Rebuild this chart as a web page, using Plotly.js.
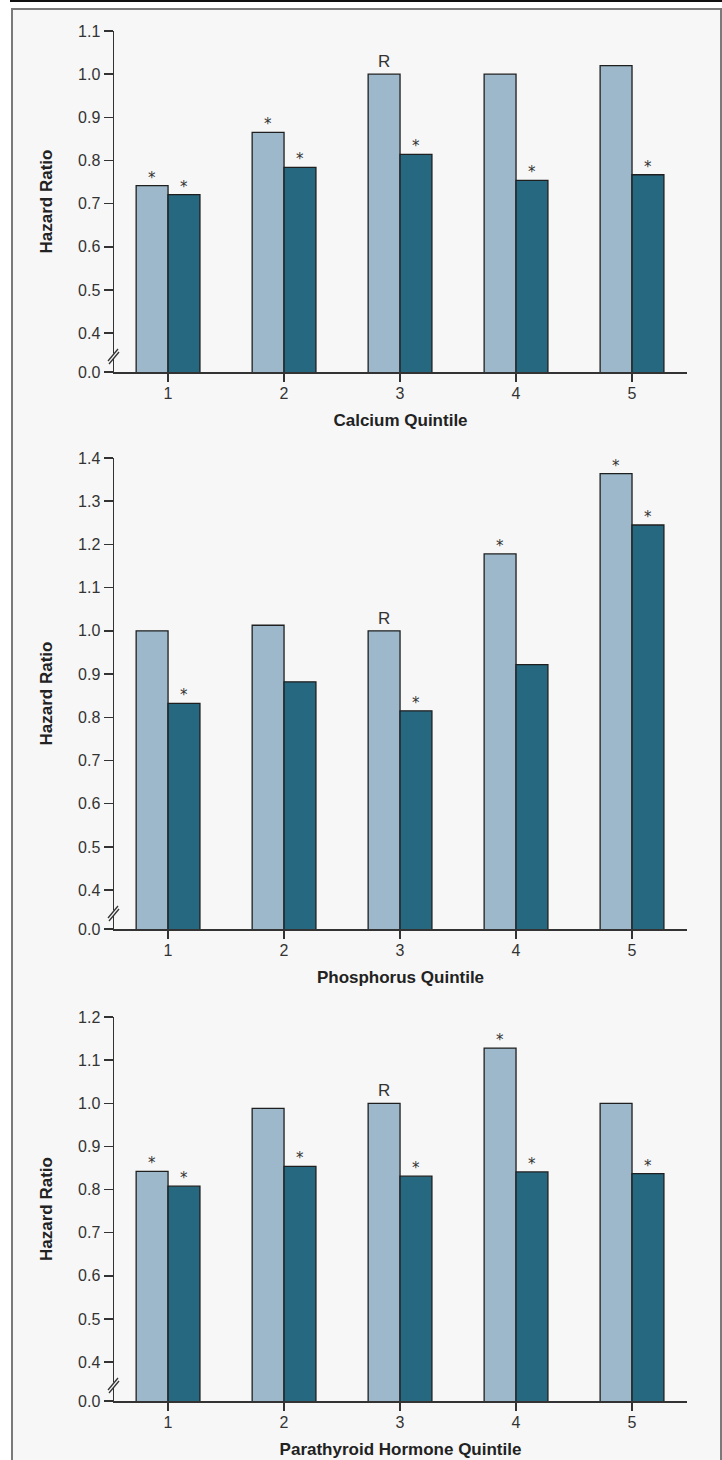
<!DOCTYPE html>
<html>
<head>
<meta charset="utf-8">
<script src="https://cdn.plot.ly/plotly-3.0.1.min.js"></script>
<style>
html,body{margin:0;padding:0;background:#ffffff;}
#chart{width:722px;height:1460px;}
</style>
</head>
<body>
<div id="chart"></div>
<script>
// ---------------- data ----------------
const quintiles = ['1', '2', '3', '4', '5'];

const calciumLight = [0.742, 0.865, 1.00, 1.00, 1.02];
const calciumDark  = [0.721, 0.784, 0.814, 0.754, 0.767];
const calciumLightMarks = ['*', '*', 'R', '', ''];
const calciumDarkMarks  = ['*', '*', '*', '*', '*'];
const calciumTicks = [0.4, 0.5, 0.6, 0.7, 0.8, 0.9, 1.0, 1.1];

const phosphorusLight = [1.00, 1.013, 1.00, 1.178, 1.364];
const phosphorusDark  = [0.832, 0.882, 0.815, 0.922, 1.245];
const phosphorusLightMarks = ['', '', 'R', '*', '*'];
const phosphorusDarkMarks  = ['*', '', '*', '', '*'];
const phosphorusTicks = [0.4, 0.5, 0.6, 0.7, 0.8, 0.9, 1.0, 1.1, 1.2, 1.3, 1.4];

const pthLight = [0.842, 0.988, 1.00, 1.128, 1.00];
const pthDark  = [0.808, 0.854, 0.831, 0.841, 0.837];
const pthLightMarks = ['*', '', 'R', '*', ''];
const pthDarkMarks  = ['*', '*', '*', '*', '*'];
const pthTicks = [0.4, 0.5, 0.6, 0.7, 0.8, 0.9, 1.0, 1.1, 1.2];

const zeroLabel = '0.0';

// ---------------- layout helpers ----------------
const W = 722, H = 1460;
const px = v => v / W;
const py = v => 1 - v / H;
const AXIS_BREAK_POS = 0.31;   // axis position drawn as "0.0" below the break

const LIGHT = '#9db8ca';
const DARK = '#266880';
const OUTLINE = '#1f1f1f';
const AXIS = '#333333';
const BG = '#f7f7f7';
const tickFont = {family: '"Liberation Sans Narrow", "Liberation Sans", Arial, sans-serif', size: 16, color: '#333333'};
const yTitleFont = {family: '"Liberation Sans", Arial, sans-serif', size: 17, color: '#222222', weight: 'bold'};
const xTitleFont = {family: '"Liberation Sans", Arial, sans-serif', size: 17, color: '#222222', weight: 'bold'};

const panels = [
  {light: calciumLight, dark: calciumDark, lm: calciumLightMarks, dm: calciumDarkMarks, ticks: calciumTicks, title: 'Calcium Quintile', top: 31, bottom: 372},
  {light: phosphorusLight, dark: phosphorusDark, lm: phosphorusLightMarks, dm: phosphorusDarkMarks, ticks: phosphorusTicks, title: 'Phosphorus Quintile', top: 458, bottom: 929},
  {light: pthLight, dark: pthDark, lm: pthLightMarks, dm: pthDarkMarks, ticks: pthTicks, title: 'Parathyroid Hormone Quintile', top: 1017, bottom: 1401}
];

const traces = [];
const annotations = [];
const shapes = [];

// frame
shapes.push({type: 'rect', xref: 'paper', yref: 'paper', layer: 'below',
  x0: px(12), x1: px(721), y0: py(1470), y1: py(9),
  fillcolor: BG, line: {color: '#7a7a7a', width: 2}});
shapes.push({type: 'line', xref: 'paper', yref: 'paper', layer: 'below',
  x0: px(10), x1: px(722), y0: py(1), y1: py(1), line: {color: '#111111', width: 2}});

const layout = {
  width: W, height: H,
  margin: {l: 0, r: 0, t: 0, b: 0},
  paper_bgcolor: '#ffffff',
  plot_bgcolor: 'rgba(0,0,0,0)',
  showlegend: false,
  barmode: 'group',
  bargap: 0.45,
  bargroupgap: 0
};

panels.forEach((p, i) => {
  const n = i === 0 ? '' : String(i + 1);
  const xa = 'x' + n, ya = 'y' + n;
  const common = {type: 'bar', x: quintiles, xaxis: xa, yaxis: ya, hoverinfo: 'skip'};
  traces.push(Object.assign({}, common, {y: p.light, marker: {color: LIGHT, line: {color: OUTLINE, width: 1.3}}}));
  traces.push(Object.assign({}, common, {y: p.dark, marker: {color: DARK, line: {color: OUTLINE, width: 1.3}}}));

  const ymax = p.ticks[p.ticks.length - 1];
  layout['xaxis' + n] = {
    domain: [px(114), px(687)], anchor: ya, type: 'category',
    range: [-0.466, 4.474],
    showline: true, linecolor: AXIS, linewidth: 1.5,
    ticks: 'outside', ticklen: 8, tickwidth: 1.5, tickcolor: AXIS,
    ticklabelstandoff: -2,
    showgrid: false, zeroline: false, fixedrange: true,
    tickfont: tickFont,
    title: {text: p.title, font: xTitleFont, standoff: 13}
  };
  layout['yaxis' + n] = {
    domain: [py(p.bottom), py(p.top)], anchor: xa,
    range: [AXIS_BREAK_POS, ymax],
    tickmode: 'array',
    tickvals: [AXIS_BREAK_POS].concat(p.ticks),
    ticktext: [zeroLabel].concat(p.ticks.map(t => t.toFixed(1))),
    showline: true, linecolor: AXIS, linewidth: 1.5,
    ticks: 'outside', ticklen: 9, tickwidth: 1.5, tickcolor: AXIS,
    showgrid: false, zeroline: false, fixedrange: true,
    tickfont: tickFont,
    title: {text: 'Hazard Ratio', font: yTitleFont, standoff: 21}
  };

  // significance / reference marks above bars (x given as category index)
  const addMarks = (marks, vals, shift) => {
    marks.forEach((m, k) => {
      if (!m) return;
      const isR = m === 'R';
      annotations.push({
        xref: xa, yref: ya, x: k, y: vals[k],
        xshift: shift, yshift: isR ? 1 : -3,
        xanchor: 'center', yanchor: 'bottom', showarrow: false,
        text: m,
        font: isR ? {family: '"Liberation Sans Narrow", "Liberation Sans", sans-serif', size: 17, color: '#333'}
                  : {family: '"DejaVu Sans", sans-serif', size: 15, color: '#333'}
      });
    });
  };
  addMarks(p.lm, p.light, -16);
  addMarks(p.dm, p.dark, 16);

  // axis break marks
  const c = p.bottom - 16;
  shapes.push({type: 'line', xref: 'paper', yref: 'paper', layer: 'above',
    x0: px(114), x1: px(114), y0: py(c - 2.5), y1: py(c + 2.5), line: {color: BG, width: 3}});
  shapes.push({type: 'line', xref: 'paper', yref: 'paper', layer: 'above',
    x0: px(108), y0: py(c + 5), x1: px(118), y1: py(c - 7), line: {color: AXIS, width: 1.3}});
  shapes.push({type: 'line', xref: 'paper', yref: 'paper', layer: 'above',
    x0: px(109), y0: py(c + 8), x1: px(119), y1: py(c - 4), line: {color: AXIS, width: 1.3}});
});

layout.annotations = annotations;
layout.shapes = shapes;

Plotly.newPlot('chart', traces, layout, {staticPlot: true, displayModeBar: false});
</script>
</body>
</html>
